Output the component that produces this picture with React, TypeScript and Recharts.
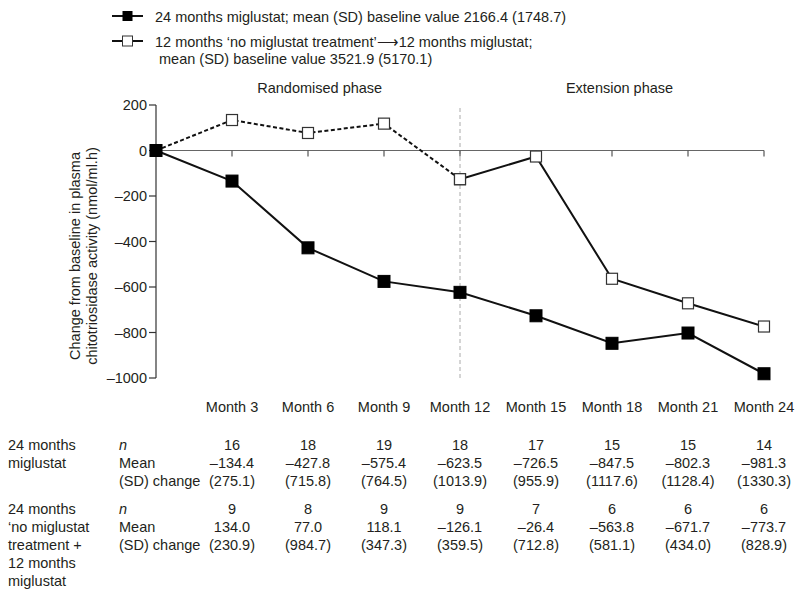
import React from 'react';
import { LineChart, Line, XAxis, YAxis, ReferenceLine, ReferenceDot } from 'recharts';

const months = [0, 3, 6, 9, 12, 15, 18, 21, 24];
const monthLabels = ['Month 3', 'Month 6', 'Month 9', 'Month 12', 'Month 15', 'Month 18', 'Month 21', 'Month 24'];
const miglustat24 = [0, -134.4, -427.8, -575.4, -623.5, -726.5, -847.5, -802.3, -981.3];
const delayed = [0, 134.0, 77.0, 118.1, -126.1, -26.4, -563.8, -671.7, -773.7];
const n1 = [16, 18, 19, 18, 17, 15, 15, 14];
const sd1 = [275.1, 715.8, 764.5, 1013.9, 955.9, 1117.6, 1128.4, 1330.3];
const n2 = [9, 8, 9, 9, 7, 6, 6, 6];
const sd2 = [230.9, 984.7, 347.3, 359.5, 712.8, 581.1, 434.0, 828.9];
const yTicks = [200, 0, -200, -400, -600, -800, -1000];
const switchMonth = 12;

const data = months.map((m, i) => ({
  month: m,
  a: miglustat24[i],
  bDash: m <= switchMonth ? delayed[i] : null,
  bSolid: m >= switchMonth ? delayed[i] : null,
}));

const FONT = '"Liberation Sans", Arial, Helvetica, sans-serif';
const TXT = '#231f20';
const FS = 14.5;

const fmt = (v: number) => (v < 0 ? '\u2013' + Math.abs(v).toFixed(1) : v.toFixed(1));
const fmtTick = (v: number) => (v < 0 ? '\u2013' + Math.abs(v) : String(v));

const FilledSquare = (props: any) => {
  const { cx, cy, index } = props;
  if (cx == null || cy == null || props.value == null) return <g key={`f${index}`} />;
  return <rect key={`f${index}`} x={cx - 6} y={cy - 6} width={12} height={12} fill="#000" stroke="#000" strokeWidth={1} />;
};

const OpenSquare = (props: any) => {
  const { cx, cy, index } = props;
  if (cx == null || cy == null || props.value == null) return <g key={`o${index}`} />;
  return <rect key={`o${index}`} x={cx - 5.5} y={cy - 5.5} width={11} height={11} fill="#fff" stroke="#333" strokeWidth={1.2} />;
};

const TableTick = (props: any) => {
  const { x, y, payload } = props;
  const i = months.indexOf(payload.value) - 1;
  if (i < 0) return <g />;
  const rows: [number, string][] = [
    [34, monthLabels[i]],
    [72, String(n1[i])],
    [90, fmt(miglustat24[i + 1])],
    [108, `(${sd1[i].toFixed(1)})`],
    [136, String(n2[i])],
    [154, fmt(delayed[i + 1])],
    [172, `(${sd2[i].toFixed(1)})`],
  ];
  return (
    <g>
      {rows.map(([dy, t], k) => (
        <text key={k} x={x} y={y + dy} textAnchor="middle" fontSize={FS} fill={TXT} fontFamily={FONT}>
          {t}
        </text>
      ))}
    </g>
  );
};

const ZeroTick = (props: any) => {
  const { cx, cy } = props;
  return <line x1={cx} x2={cx} y1={cy} y2={cy + 6} stroke="#555" strokeWidth={1.2} />;
};

export default function App() {
  return (
    <div style={{ position: 'relative', width: 800, height: 594, fontFamily: FONT, background: '#fff', overflow: 'hidden' }}>
      <style>{`html,body{margin:0;padding:0;overflow:hidden;}`}</style>
      <LineChart width={800} height={594} data={data} margin={{ top: 105, right: 36, left: 0, bottom: 0 }}>
        <XAxis
          dataKey="month"
          type="number"
          domain={[0, 24]}
          ticks={months}
          axisLine={false}
          tickLine={false}
          tickSize={0}
          tickMargin={0}
          height={216}
          tick={<TableTick />}
          interval={0}
        />
        <YAxis
          type="number"
          domain={[-1000, 200]}
          ticks={yTicks}
          width={156}
          axisLine={{ stroke: '#333', strokeWidth: 1.2 }}
          tickLine={{ stroke: '#333', strokeWidth: 1.2 }}
          tickSize={7}
          tickMargin={2}
          tick={{ fontSize: FS, fill: TXT, fontFamily: FONT }}
          tickFormatter={fmtTick}
          interval={0}
        />
        <ReferenceLine x={switchMonth} stroke="#aaa" strokeWidth={1} strokeDasharray="4 3" />
        <ReferenceLine y={0} stroke="#666" strokeWidth={1.2} />
        {months.slice(1).map((m) => (
          <ReferenceDot key={m} x={m} y={0} r={0} shape={<ZeroTick />} />
        ))}
        <Line
          dataKey="bDash"
          stroke="#111"
          strokeWidth={2}
          strokeDasharray="4 2.5"
          dot={OpenSquare}
          activeDot={false}
          isAnimationActive={false}
          connectNulls={false}
        />
        <Line
          dataKey="bSolid"
          stroke="#111"
          strokeWidth={2}
          dot={OpenSquare}
          activeDot={false}
          isAnimationActive={false}
          connectNulls={false}
        />
        <Line
          dataKey="a"
          stroke="#111"
          strokeWidth={2}
          dot={FilledSquare}
          activeDot={false}
          isAnimationActive={false}
        />
      </LineChart>
      <svg
        width={800}
        height={594}
        style={{ position: 'absolute', left: 0, top: 0, pointerEvents: 'none' }}
        fontFamily={FONT}
      >
        {/* legend */}
        <line x1={112} x2={143} y1={16} y2={16} stroke="#111" strokeWidth={2} />
        <rect x={122.5} y={11} width={10} height={10} fill="#000" />
        <text x={155} y={21.5} fontSize={FS} fill={TXT}>24 months miglustat; mean (SD) baseline value 2166.4 (1748.7)</text>
        <line x1={112} x2={143} y1={41} y2={41} stroke="#111" strokeWidth={2} />
        <rect x={122.5} y={36} width={10} height={10} fill="#fff" stroke="#333" strokeWidth={1} />
        <text x={155} y={46.5} fontSize={FS} fill={TXT}>12 months ‘no miglustat treatment’⟶12 months miglustat;</text>
        <text x={159} y={64} fontSize={FS} fill={TXT}>mean (SD) baseline value 3521.9 (5170.1)</text>
        {/* phase titles */}
        <text x={319.7} y={93} fontSize={FS} fill={TXT} textAnchor="middle">Randomised phase</text>
        <text x={619.5} y={93} fontSize={FS} fill={TXT} textAnchor="middle">Extension phase</text>
        {/* y label */}
        <text transform="translate(79.5,256) rotate(-90)" fontSize={FS} fill={TXT} textAnchor="middle">Change from baseline in plasma</text>
        <text transform="translate(96.5,256) rotate(-90)" fontSize={FS} fill={TXT} textAnchor="middle">chitotriosidase activity (nmol/ml.h)</text>
        {/* table row labels */}
        <g fontSize={FS} fill={TXT}>
          <text x={8} y={450}>24 months</text>
          <text x={8} y={468}>miglustat</text>
          <text x={119} y={450} fontStyle="italic">n</text>
          <text x={119} y={468}>Mean</text>
          <text x={119} y={486}>(SD) change</text>
          <text x={8} y={514}>24 months</text>
          <text x={8} y={532}>‘no miglustat</text>
          <text x={8} y={550}>treatment +</text>
          <text x={8} y={568}>12 months</text>
          <text x={8} y={586}>miglustat</text>
          <text x={119} y={514} fontStyle="italic">n</text>
          <text x={119} y={532}>Mean</text>
          <text x={119} y={550}>(SD) change</text>
        </g>
      </svg>
    </div>
  );
}
